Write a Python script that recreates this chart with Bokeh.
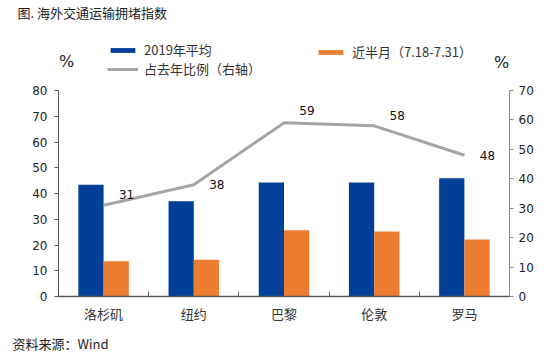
from bokeh.plotting import figure
from bokeh.models import (Range1d, LinearAxis, FixedTicker, Legend, LegendItem,
                          Label, ColumnDataSource, Title)
from bokeh.transform import dodge
from bokeh.embed import file_html
from bokeh.resources import INLINE
from bokeh.core.properties import value

# ---- data ----
cities = ["洛杉矶", "纽约", "巴黎", "伦敦", "罗马"]
avg_2019 = [43.4, 37.0, 44.3, 44.3, 45.9]
recent = [13.7, 14.3, 25.7, 25.2, 22.1]
ratio = [31, 38, 59, 58, 48]
left_ticks = [0, 10, 20, 30, 40, 50, 60, 70, 80]
right_ticks = [0, 10, 20, 30, 40, 50, 60, 70]

# style: vertical nudges of the data labels (px)
label_dy = [-11, 0, -12, -10, 0]

BLUE = "#013F99"
ORANGE = "#ED7D31"
GRAY = "#A5A5A5"
CJK = "Noto Sans CJK SC"
NUM = "DejaVu Sans"

W, H = 541, 359
FRAME_TOP, FRAME_BOTTOM = 22, 296           # canvas px
AXIS_TOP = 90                                # where the top tick (80 / 70) sits
frame_h = FRAME_BOTTOM - FRAME_TOP
axis_h = FRAME_BOTTOM - AXIS_TOP
ymax_left = left_ticks[-1] * frame_h / axis_h
ymax_right = right_ticks[-1] * frame_h / axis_h

xs = list(range(len(cities)))
src = ColumnDataSource(dict(x=xs, a=avg_2019, b=recent, r=ratio,
                            lbl=[str(v) for v in ratio], dy=label_dy))

p = figure(width=W, height=H, output_backend="svg", toolbar_location=None,
           x_range=Range1d(-0.5, len(cities) - 0.5), y_range=Range1d(0, ymax_left),
           x_axis_location=None, y_axis_location=None,
           min_border_left=58, min_border_right=W - 509, min_border_top=FRAME_TOP,
           min_border_bottom=H - FRAME_BOTTOM)
p.outline_line_color = None
p.xgrid.visible = False
p.ygrid.visible = False
p.extra_y_ranges = {"right": Range1d(0, ymax_right)}

p.title.text = "图. 海外交通运输拥堵指数"
p.title.align = "left"
p.title.offset = -41
p.title.text_font = CJK
p.title.text_font_size = "13px"
p.title.text_font_style = "normal"
p.title.text_color = "#222222"
p.title.standoff = 1

# axes
xaxis = LinearAxis(ticker=FixedTicker(ticks=xs, minor_ticks=[i + 0.5 for i in xs[:-1]]),
                   major_label_overrides={i: c for i, c in zip(xs, cities)},
                   major_tick_in=0, major_tick_out=0, minor_tick_in=5, minor_tick_out=0,
                   axis_line_color="#595959", minor_tick_line_color="#595959",
                   axis_line_width=1.5,
                   major_label_text_font=CJK, major_label_text_font_size="13px",
                   major_label_text_color="#333333", major_label_standoff=7)
p.add_layout(xaxis, "below")

yaxis = LinearAxis(ticker=FixedTicker(ticks=left_ticks, minor_ticks=[]),
                   bounds=(left_ticks[0], left_ticks[-1]),
                   major_tick_in=0, major_tick_out=4, minor_tick_in=0, minor_tick_out=0,
                   axis_line_color="#595959", major_tick_line_color="#595959",
                   major_label_text_font=NUM, major_label_text_font_size="12px",
                   major_label_text_color="#222222", major_label_standoff=7)
p.add_layout(yaxis, "left")

yaxis2 = LinearAxis(y_range_name="right", ticker=FixedTicker(ticks=right_ticks, minor_ticks=[]),
                    bounds=(right_ticks[0], right_ticks[-1]),
                    major_tick_in=0, major_tick_out=4, minor_tick_in=0, minor_tick_out=0,
                    axis_line_color="#8C8C8C", major_tick_line_color="#8C8C8C",
                    major_label_text_font=NUM, major_label_text_font_size="12px",
                    major_label_text_color="#222222", major_label_standoff=5)
p.add_layout(yaxis2, "right")

p.add_layout(Title(text="资料来源：Wind", align="left", offset=-46, text_font=CJK,
                   text_font_size="13px", text_font_style="normal", text_color="#222222",
                   standoff=12), "below")

# bars
bw = 0.28
rb = p.vbar(x=dodge("x", -bw / 2, range=p.x_range), top="a", width=bw, source=src,
            fill_color=BLUE, line_color=None)
ro = p.vbar(x=dodge("x", bw / 2, range=p.x_range), top="b", width=bw, source=src,
            fill_color=ORANGE, line_color=None)
rl = p.line(x="x", y="r", source=src, y_range_name="right", line_color=GRAY, line_width=3)
p.text(x="x", y="r", text="lbl", source=src, y_range_name="right",
       x_offset=23, y_offset="dy", text_align="center", text_baseline="middle",
       text_font=value(NUM), text_font_size="12px", text_color="#111111")

# legends (inside the tall frame)
common = dict(padding=0, margin=0, border_line_color=None, background_fill_alpha=0,
              label_text_font=CJK, label_text_font_size="13px", label_text_color="#333333",
              glyph_width=31, glyph_height=6, label_height=17, label_standoff=6, spacing=0)
leg1 = Legend(items=[LegendItem(label="2019年平均", renderers=[rb]),
                     LegendItem(label="占去年比例（右轴）", renderers=[rl])],
              location=(49, 218), orientation="vertical", **common)
leg2 = Legend(items=[LegendItem(label="近半月（7.18-7.31）", renderers=[ro])],
              location=(257, 235), **common)
p.add_layout(leg1)
p.add_layout(leg2)

# percent marks
p.add_layout(Label(x=66, y=61, x_units="canvas", y_units="canvas", text="%",
                   text_font=NUM, text_font_size="16px", text_baseline="middle",
                   text_align="center", text_color="#222222"))
p.add_layout(Label(x=501, y=62, x_units="canvas", y_units="canvas", text="%",
                   text_font=NUM, text_font_size="16px", text_baseline="middle",
                   text_align="center", text_color="#222222"))

open("out.html", "w").write(file_html(p, INLINE))
